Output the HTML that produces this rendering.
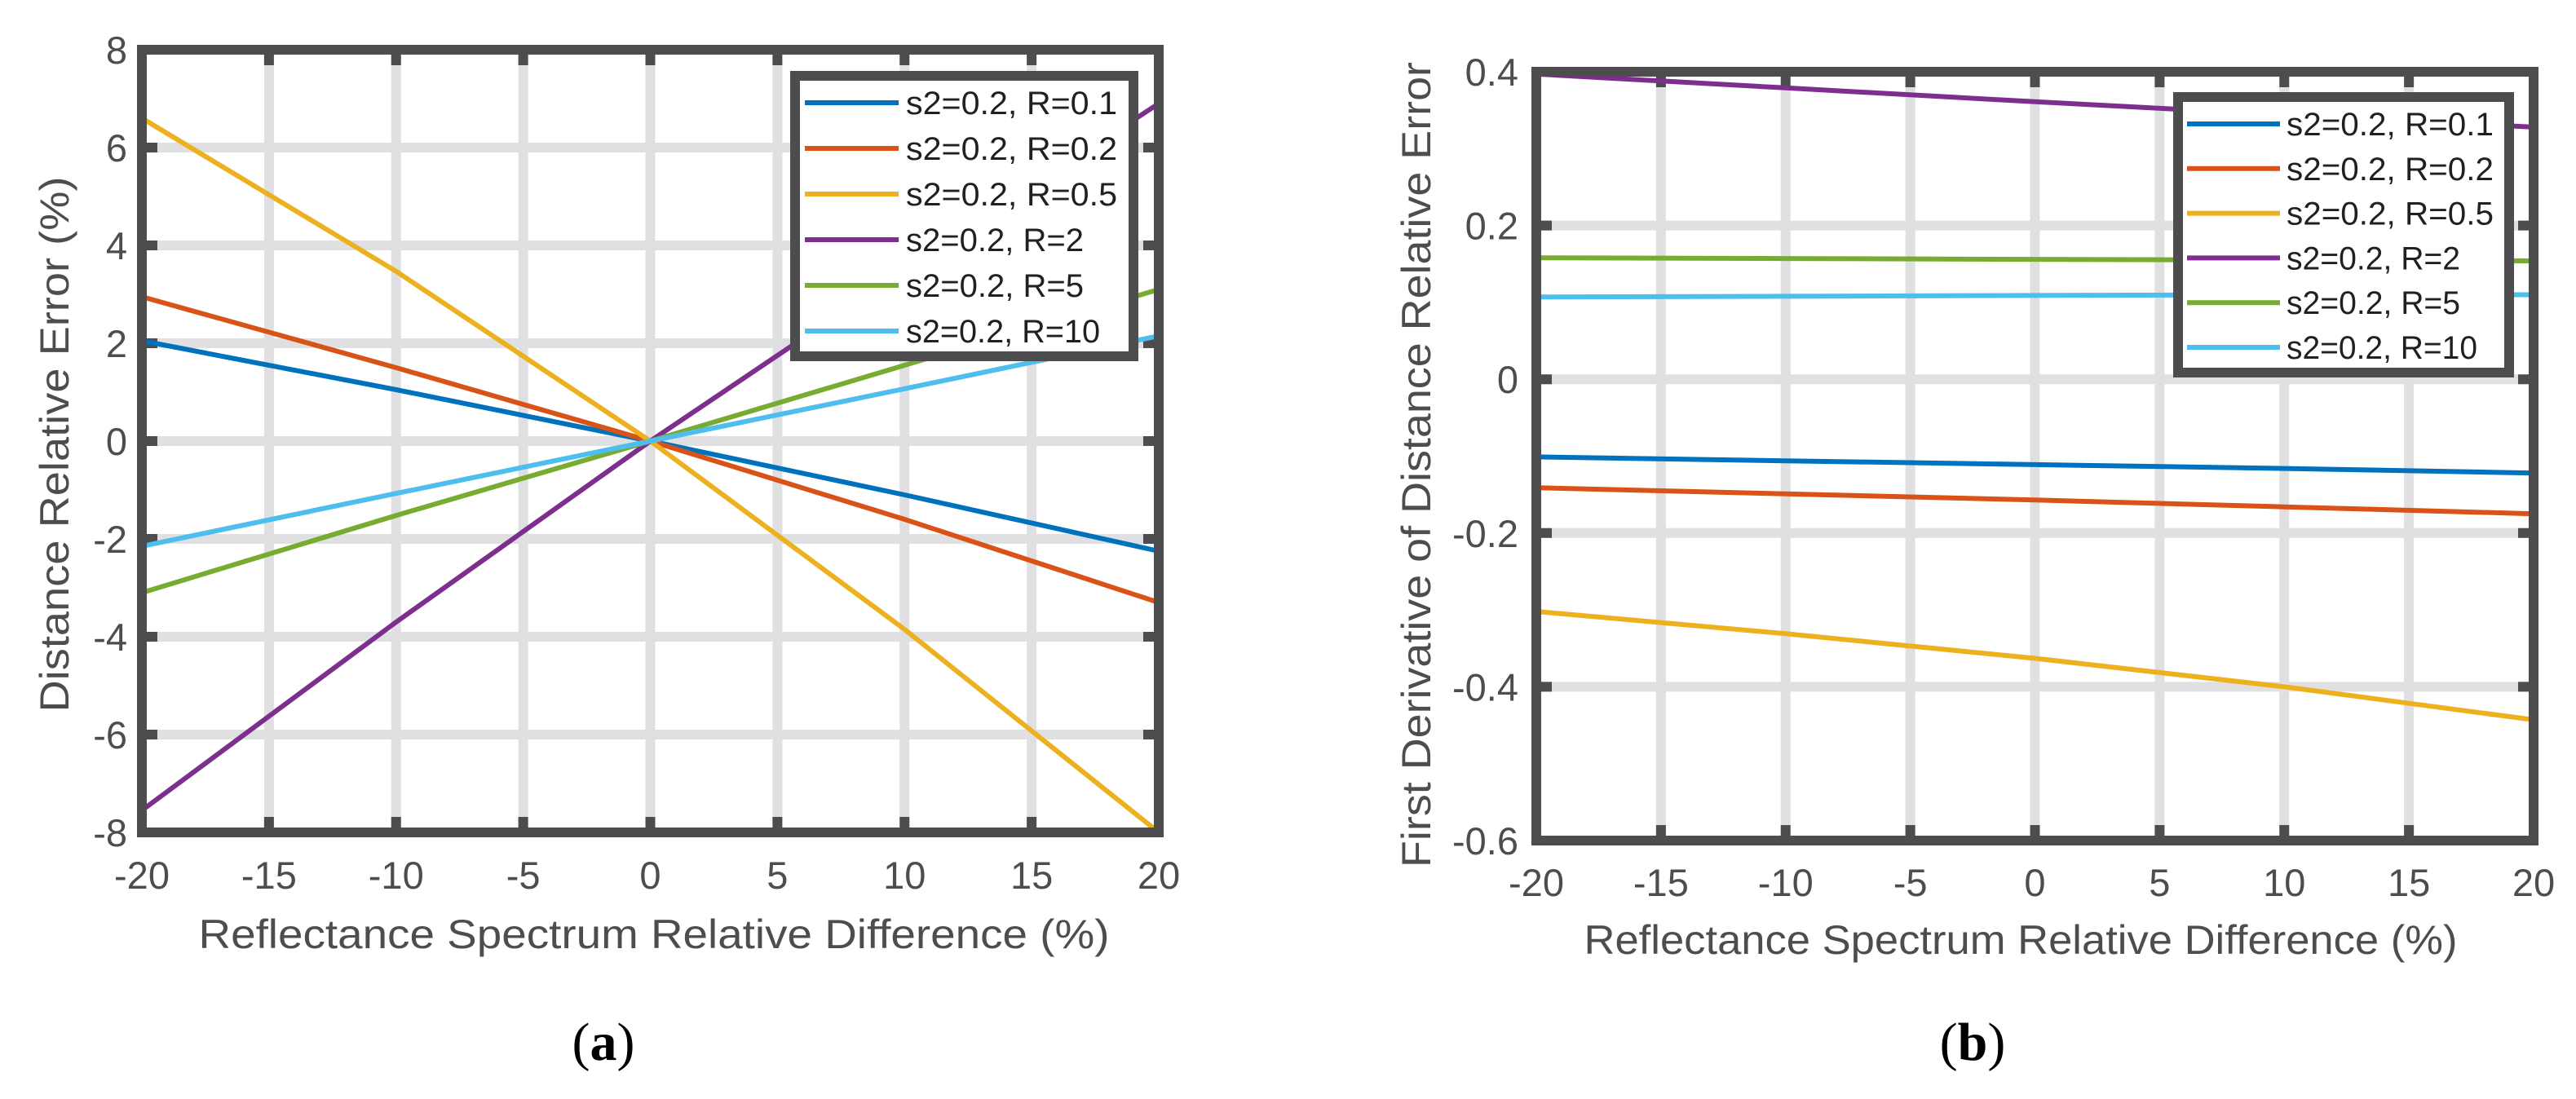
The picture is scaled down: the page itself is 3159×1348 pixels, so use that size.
<!DOCTYPE html>
<html><head><meta charset="utf-8"><style>
html,body{margin:0;padding:0;background:#fff;}
svg{display:block;}
</style></head><body>
<svg id="fig" width="3159" height="1348" viewBox="0 0 3159 1348" xmlns="http://www.w3.org/2000/svg">
<rect width="3159" height="1348" fill="#fff"/>
</svg>
<script>
const xTicks = [-20,-15,-10,-5,0,5,10,15,20];
const xPts = [-20,-10,0,10,20];
const seriesNames = ["s2=0.2, R=0.1","s2=0.2, R=0.2","s2=0.2, R=0.5","s2=0.2, R=2","s2=0.2, R=5","s2=0.2, R=10"];
const colors = ["#0072BD","#D95319","#EDB120","#7E2F8E","#77AC30","#4DBEEE"];
// Panel (a)
const aTicksY = [-8,-6,-4,-2,0,2,4,6,8];
const aR01 = [2.05,1.05,0,-1.1,-2.25];
const aR02 = [2.95,1.5,0,-1.6,-3.3];
const aR05 = [6.6,3.47,0,-3.85,-8.0];
const aR2 = [-7.55,-3.7,0,3.5,6.9];
const aR5 = [-3.1,-1.52,0,1.55,3.1];
const aR10 = [-2.15,-1.07,0,1.07,2.15];
// Panel (b)
const bTicksY = [-0.6,-0.4,-0.2,0,0.2,0.4];
const bR01 = [-0.101,-0.106,-0.111,-0.116,-0.122];
const bR02 = [-0.141,-0.149,-0.157,-0.166,-0.175];
const bR05 = [-0.302,-0.331,-0.363,-0.400,-0.443];
const bR2 = [0.397,0.379,0.361,0.344,0.328];
const bR5 = [0.158,0.157,0.156,0.155,0.154];
const bR10 = [0.107,0.108,0.109,0.110,0.110];

const NS="http://www.w3.org/2000/svg";
const svg=document.getElementById('fig');
function mk(tag,attrs,parent){const e=document.createElementNS(NS,tag);for(const k in attrs)e.setAttribute(k,attrs[k]);(parent||svg).appendChild(e);return e;}
const DARK="#4d4d4f", GRID="#e0e0e2";

function panel(cfg){
  const g=mk('g',{});
  
  
  const X=v=>cfg.x0+(v-cfg.xmin)/(cfg.xmax-cfg.xmin)*(cfg.x1-cfg.x0);
  const Y=v=>cfg.y1-(v-cfg.ymin)/(cfg.ymax-cfg.ymin)*(cfg.y1-cfg.y0);
  // grid
  xTicks.forEach(t=>{const l=mk('line',{x1:X(t),x2:X(t),y1:cfg.y0,y2:cfg.y1,stroke:GRID,'stroke-width':12},g);
    });
  cfg.yTicks.forEach(t=>{const l=mk('line',{x1:cfg.x0,x2:cfg.x1,y1:Y(t),y2:Y(t),stroke:GRID,'stroke-width':12},g);
    });
  // ticks
  xTicks.forEach(t=>{
    mk('line',{x1:X(t),x2:X(t),y1:cfg.y1,y2:cfg.y1-19,stroke:DARK,'stroke-width':12},g);
    mk('line',{x1:X(t),x2:X(t),y1:cfg.y0,y2:cfg.y0+19,stroke:DARK,'stroke-width':12},g);
    const tx=mk('text',{x:X(t),y:cfg.xTickBase,'text-anchor':'middle','font-family':'Liberation Sans, sans-serif','font-size':47,fill:DARK},g);
    tx.textContent=String(t);
    
  });
  cfg.yTicks.forEach(t=>{
    mk('line',{x1:cfg.x0,x2:cfg.x0+19,y1:Y(t),y2:Y(t),stroke:DARK,'stroke-width':12},g);
    mk('line',{x1:cfg.x1,x2:cfg.x1-19,y1:Y(t),y2:Y(t),stroke:DARK,'stroke-width':12},g);
    const tx=mk('text',{x:cfg.yTickX,y:Y(t)+17,'text-anchor':'end','font-family':'Liberation Sans, sans-serif','font-size':47,fill:DARK},g);
    tx.textContent=cfg.fmt(t);
    
  });
  // series
  cfg.series.forEach((vals,i)=>{
    const d=vals.map((v,j)=>(j?'L':'M')+X(xPts[j]).toFixed(1)+' '+Y(v).toFixed(1)).join(' ');
    const p=mk('path',{d:d,fill:'none',stroke:colors[i],'stroke-width':6,'stroke-linejoin':'round'},g);
    
    
  });
  // frame
  const fr=mk('rect',{x:cfg.x0,y:cfg.y0,width:cfg.x1-cfg.x0,height:cfg.y1-cfg.y0,fill:'none',stroke:DARK,'stroke-width':12},g);
  
  // legend
  const L=cfg.leg;
  const lg=mk('g',{},g);
  
  
  mk('rect',{x:L.x0,y:L.y0,width:L.x1-L.x0,height:L.y1-L.y0,fill:'#fff',stroke:DARK,'stroke-width':12},lg);
  seriesNames.forEach((n,i)=>{
    const yy=L.row0+i*L.dy;
    const e=mk('g',{},lg);
    
    
    mk('line',{x1:L.lx0,x2:L.lx1,y1:yy,y2:yy,stroke:colors[i],'stroke-width':6},e);
    const t=mk('text',{x:L.tx,y:yy+14,'font-family':'Liberation Sans, sans-serif','font-size':40,fill:'#231f20'},e);
    t.textContent=n;
    const w=[L.tw,L.tw,L.tw,L.tw*0.84,L.tw*0.84,L.tw*0.92][i];
    t.setAttribute('textLength',w.toFixed(0));t.setAttribute('lengthAdjust','spacingAndGlyphs');
  });
  // axis labels
  const xl=mk('text',{x:cfg.xlX,y:cfg.xlY,'text-anchor':'middle','font-family':'Liberation Sans, sans-serif','font-size':50,fill:DARK,textLength:cfg.xlW,lengthAdjust:'spacingAndGlyphs'},g);
  xl.textContent="Reflectance Spectrum Relative Difference (%)";
  
  const yl=mk('text',{x:0,y:0,'text-anchor':'middle','font-family':'Liberation Sans, sans-serif','font-size':50,fill:DARK,textLength:cfg.ylW,lengthAdjust:'spacingAndGlyphs',transform:`translate(${cfg.ylX},${cfg.ylY}) rotate(-90)`},g);
  yl.textContent=cfg.ylabel;
  
  // caption
  const cap=mk('text',{x:cfg.capX,y:1300,'text-anchor':'middle','font-family':'Liberation Serif, serif','font-size':66,fill:'#000'},g);
  cap.innerHTML='(<tspan font-weight="bold">'+cfg.cap+'</tspan>)';
  
}

panel({name:'chart-a',x0:174,x1:1421,y0:61,y1:1021,xmin:-20,xmax:20,ymin:-8,ymax:8,yTicks:aTicksY,
  fmt:v=>String(v),xTickBase:1090,yTickX:156,
  series:[aR01,aR02,aR05,aR2,aR5,aR10],
  leg:{x0:975,x1:1390,y0:93,y1:437,lx0:987,lx1:1102,tx:1111,row0:126,dy:56,tw:259},
  xlX:802,xlY:1163,xlW:1117,ylabel:"Distance Relative Error (%)",ylX:84,ylY:545,ylW:657,capX:740,cap:'a'});

panel({name:'chart-b',x0:1884,x1:3107,y0:88,y1:1031,xmin:-20,xmax:20,ymin:-0.6,ymax:0.4,yTicks:bTicksY,
  fmt:v=>v===0?'0':v.toFixed(1),xTickBase:1099,yTickX:1862,
  series:[bR01,bR02,bR05,bR2,bR5,bR10],
  leg:{x0:2671,x1:3077,y0:119,y1:457,lx0:2682,lx1:2796,tx:2804,row0:152,dy:54.8,tw:254},
  xlX:2478,xlY:1170,xlW:1071,ylabel:"First Derivative of Distance Relative Error",ylX:1754,ylY:570,ylW:988,capX:2419,cap:'b'});
</script>
</body></html>
